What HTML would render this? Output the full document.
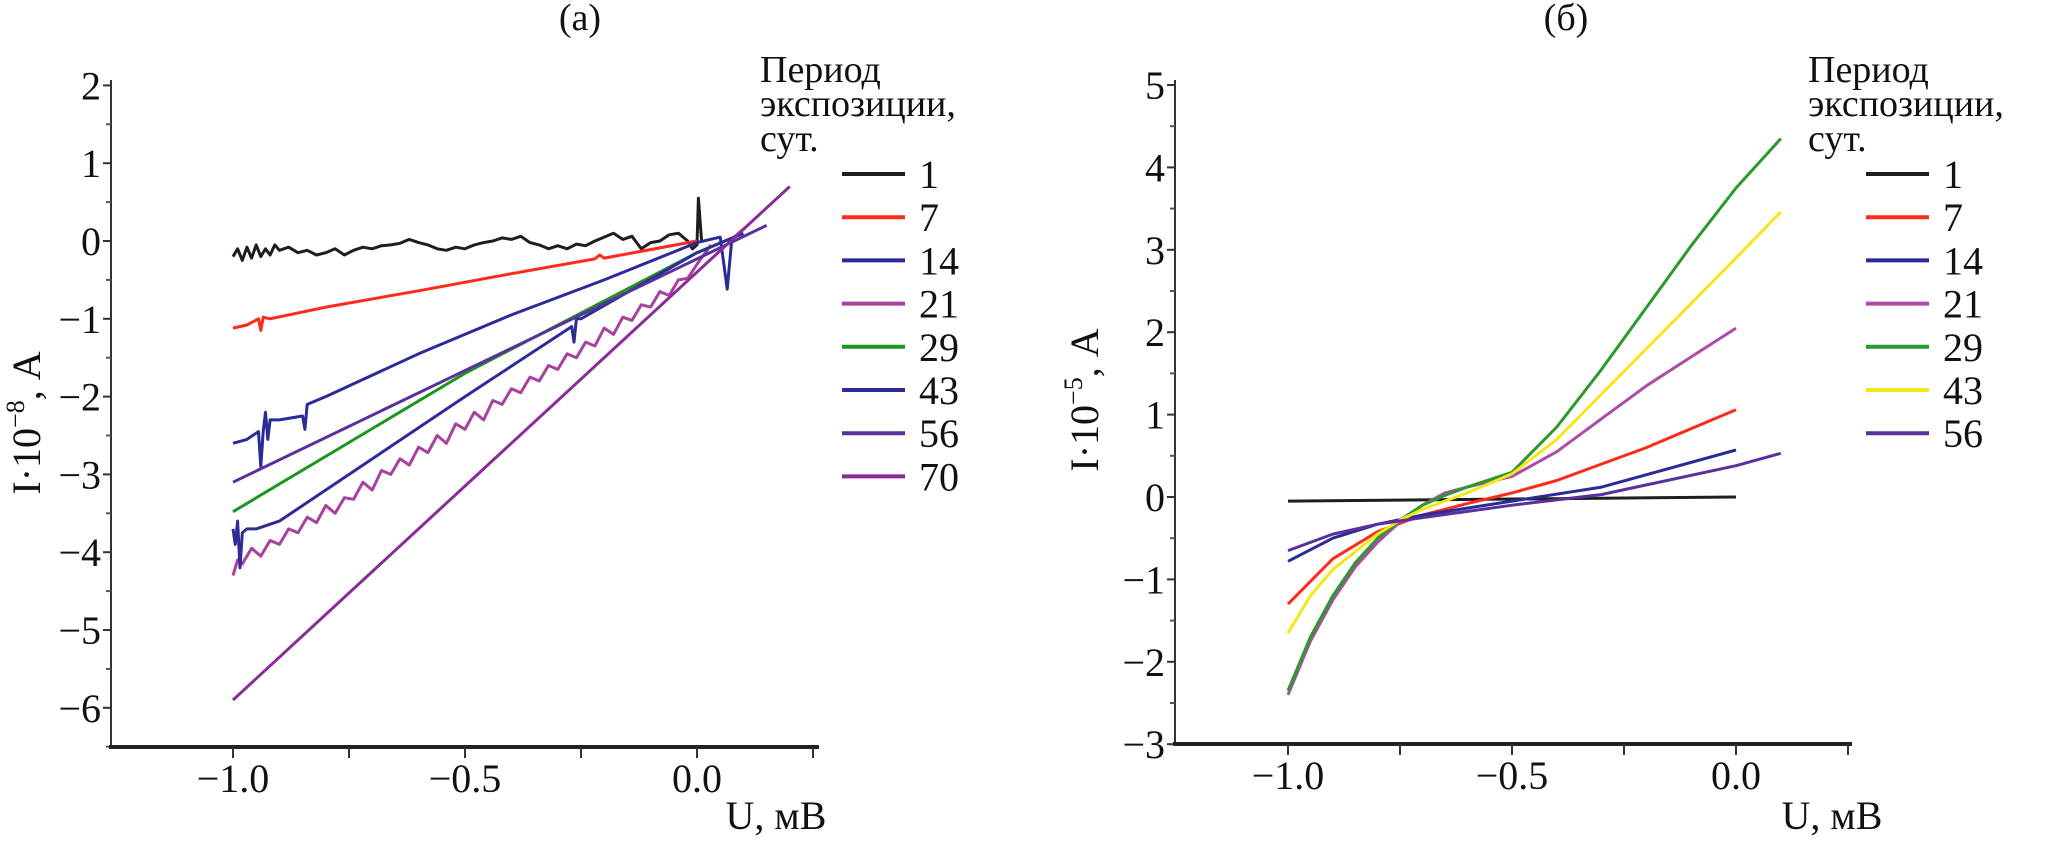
<!DOCTYPE html>
<html><head><meta charset="utf-8"><style>
html,body{margin:0;padding:0;background:#fff;}
svg{display:block;font-family:"Liberation Serif",serif;}
text{font-family:"Liberation Serif",serif;}
</style></head><body>
<svg id="chart" width="2063" height="847" viewBox="0 0 2063 847" font-family="Liberation Serif, serif"></svg>
<script>
// ---------- Panel (a) data ----------
const aYTicks = [2,1,0,-1,-2,-3,-4,-5,-6];
const aXTicks = [-1.0,-0.5,0.0];
const aXTickLabels = ["−1.0","−0.5","0.0"];
const aYTickLabels = ["2","1","0","−1","−2","−3","−4","−5","−6"];
const aLegend = ["1","7","14","21","29","43","56","70"];
const aS1x = [-1,-0.99,-0.98,-0.97,-0.96,-0.95,-0.94,-0.93,-0.92,-0.91,-0.9,-0.88,-0.86,-0.84,-0.82,-0.8,-0.78,-0.76,-0.74,-0.72,-0.7,-0.68,-0.66,-0.64,-0.62,-0.6,-0.58,-0.56,-0.54,-0.52,-0.5,-0.48,-0.46,-0.44,-0.42,-0.4,-0.38,-0.36,-0.34,-0.32,-0.3,-0.28,-0.26,-0.24,-0.22,-0.2,-0.18,-0.16,-0.14,-0.12,-0.1,-0.08,-0.06,-0.04,-0.03,-0.02,-0.01,0.0,0.003,0.01];
const aS1y = [-0.2,-0.1,-0.25,-0.08,-0.22,-0.05,-0.2,-0.1,-0.18,-0.05,-0.12,-0.08,-0.15,-0.12,-0.18,-0.15,-0.1,-0.18,-0.12,-0.08,-0.1,-0.06,-0.05,-0.03,0.02,-0.02,-0.05,-0.1,-0.12,-0.08,-0.1,-0.05,-0.02,0.0,0.04,0.02,0.06,-0.02,-0.05,-0.1,-0.06,-0.1,-0.04,-0.06,0.0,0.05,0.1,0.02,0.06,-0.1,-0.02,0.0,0.08,0.1,0.05,0.0,-0.1,-0.05,0.55,0.0];
const aS7x = [-1,-0.97,-0.945,-0.94,-0.935,-0.92,-0.8,-0.6,-0.4,-0.22,-0.21,-0.2,0];
const aS7y = [-1.12,-1.08,-1.0,-1.15,-0.98,-1.0,-0.85,-0.64,-0.42,-0.23,-0.18,-0.22,0.0];
const aS14x = [-1,-0.97,-0.945,-0.94,-0.935,-0.93,-0.925,-0.92,-0.9,-0.85,-0.845,-0.84,-0.8,-0.6,-0.4,-0.2,0,0.05,0.065,0.07,0.075,0.1];
const aS14y = [-2.6,-2.55,-2.45,-2.9,-2.45,-2.2,-2.55,-2.3,-2.3,-2.25,-2.42,-2.1,-2.0,-1.45,-0.95,-0.5,-0.02,0.05,-0.62,-0.3,0.02,0.15];
const aS21x = [-1,-0.99,-0.98,-0.96,-0.94,-0.92,-0.9,-0.88,-0.86,-0.84,-0.82,-0.8,-0.78,-0.76,-0.74,-0.72,-0.7,-0.68,-0.66,-0.64,-0.62,-0.6,-0.58,-0.56,-0.54,-0.52,-0.5,-0.48,-0.46,-0.44,-0.42,-0.4,-0.38,-0.36,-0.34,-0.32,-0.3,-0.28,-0.26,-0.24,-0.22,-0.2,-0.18,-0.16,-0.14,-0.12,-0.1,-0.08,-0.06,-0.04,-0.02,0,0.03];
const aS21y = [-4.3,-4.1,-4.15,-3.95,-4.05,-3.85,-3.9,-3.7,-3.75,-3.55,-3.62,-3.4,-3.5,-3.3,-3.32,-3.1,-3.2,-2.95,-3.0,-2.8,-2.88,-2.65,-2.72,-2.5,-2.6,-2.35,-2.42,-2.2,-2.3,-2.05,-2.1,-1.9,-1.95,-1.75,-1.8,-1.6,-1.65,-1.45,-1.5,-1.3,-1.35,-1.12,-1.2,-0.98,-1.02,-0.82,-0.85,-0.65,-0.7,-0.5,-0.48,-0.3,-0.05];
const aS29x = [-1,-0.5,0,0.1];
const aS29y = [-3.48,-1.7,-0.15,0.1];
const aS43x = [-1,-0.995,-0.99,-0.985,-0.98,-0.97,-0.95,-0.9,-0.5,-0.27,-0.265,-0.26,-0.25,0,0.1];
const aS43y = [-3.7,-3.9,-3.6,-4.2,-3.75,-3.7,-3.7,-3.6,-2.0,-1.1,-1.3,-1.0,-1.0,-0.15,0.1];
const aS56x = [-1,0.15];
const aS56y = [-3.1,0.2];
const aS70x = [-1,0.2];
const aS70y = [-5.9,0.7];
// ---------- Panel (б) data ----------
const bYTicks = [5,4,3,2,1,0,-1,-2,-3];
const bYTickLabels = ["5","4","3","2","1","0","−1","−2","−3"];
const bXTicks = [-1.0,-0.5,0.0];
const bXTickLabels = ["−1.0","−0.5","0.0"];
const bLegend = ["1","7","14","21","29","43","56"];
const bS1x = [-1,0];
const bS1y = [-0.05,0];
const bS7x = [-1,-0.9,-0.8,-0.7,-0.6,-0.5,-0.4,-0.3,-0.2,-0.1,0];
const bS7y = [-1.3,-0.75,-0.42,-0.22,-0.08,0.05,0.2,0.4,0.6,0.83,1.06];
const bS14x = [-1,-0.9,-0.8,-0.7,-0.5,-0.3,0];
const bS14y = [-0.78,-0.5,-0.33,-0.22,-0.05,0.12,0.57];
const bS21x = [-1,-0.95,-0.9,-0.85,-0.8,-0.75,-0.7,-0.65,-0.6,-0.5,-0.4,-0.3,-0.2,-0.1,0];
const bS21y = [-2.4,-1.75,-1.25,-0.85,-0.55,-0.3,-0.1,0.05,0.12,0.25,0.55,0.95,1.35,1.7,2.05];
const bS29x = [-1,-0.95,-0.9,-0.85,-0.8,-0.75,-0.7,-0.65,-0.6,-0.5,-0.4,-0.3,-0.2,-0.1,0,0.1];
const bS29y = [-2.35,-1.7,-1.2,-0.8,-0.5,-0.28,-0.1,0.02,0.12,0.3,0.85,1.55,2.3,3.05,3.75,4.35];
const bS43x = [-1,-0.95,-0.9,-0.8,-0.75,-0.7,-0.6,-0.5,-0.4,-0.3,-0.2,-0.1,0,0.1];
const bS43y = [-1.65,-1.2,-0.88,-0.45,-0.28,-0.15,0.05,0.28,0.7,1.25,1.8,2.35,2.9,3.46];
const bS56x = [-1,-0.9,-0.8,-0.7,-0.5,-0.3,0,0.1];
const bS56y = [-0.65,-0.45,-0.33,-0.25,-0.1,0.03,0.38,0.53];

const NS = "http://www.w3.org/2000/svg";
const FONT = "'Liberation Serif', serif";
const svg = document.getElementById("chart");
function mk(tag, attrs, parent) {
  const e = document.createElementNS(NS, tag);
  for (const k in attrs) e.setAttribute(k, attrs[k]);
  (parent || svg).appendChild(e);
  return e;
}
function txt(s, x, y, size, anchor, parent) {
  const t = mk("text", {x: x, y: y, "font-size": size, "font-family": FONT, "text-anchor": anchor || "start", fill: "#111"}, parent);
  t.style.fontFamily = FONT;
  t.textContent = s;
  return t;
}

function panel(cfg) {
  const g = mk("g", {});
  
  
  const X = v => cfg.x0 + (v - cfg.xmin) * cfg.xs;
  const Y = v => cfg.y0 - v * cfg.ys;
  const ya = mk("line", {x1: cfg.axX, y1: cfg.axTop, x2: cfg.axX, y2: cfg.axBot, stroke: "#333", "stroke-width": 2}, g);
  
  
  for (let i = 0; i < cfg.yTicks.length; i++) {
    const v = cfg.yTicks[i];
    mk("line", {x1: cfg.axX - 8, y1: Y(v), x2: cfg.axX, y2: Y(v), stroke: "#333", "stroke-width": 2}, g);
    const m = v - 0.5;
    if (Y(m) < cfg.axBot) mk("line", {x1: cfg.axX - 5, y1: Y(m), x2: cfg.axX, y2: Y(m), stroke: "#555", "stroke-width": 2}, g);
    const t = txt(cfg.yTickLabels[i], cfg.axX - 10, Y(v) + 14, 40, "end", g);
    
    
  }
  const xa = mk("line", {x1: cfg.axX - 2, y1: cfg.axBot, x2: cfg.axRight, y2: cfg.axBot, stroke: "#222", "stroke-width": 4}, g);
  
  
  for (let v = cfg.xmin; v <= cfg.xmax + 1e-9; v += 0.25) {
    mk("line", {x1: X(v), y1: cfg.axBot, x2: X(v), y2: cfg.axBot + 11, stroke: "#333", "stroke-width": 2}, g);
  }
  for (let i = 0; i < cfg.xTicks.length; i++) {
    const t = txt(cfg.xTickLabels[i], X(cfg.xTicks[i]), cfg.axBot + 45, 40, "middle", g);
    
    
  }
  for (let i = 0; i < cfg.series.length; i++) {
    const s = cfg.series[i];
    const d = s.x.map((xv, j) => (j ? "L" : "M") + X(xv).toFixed(1) + "," + Y(s.y[j]).toFixed(1)).join(" ");
    const p = mk("path", {d: d, fill: "none", stroke: s.c, "stroke-width": 3, "stroke-linejoin": "round"}, g);
    
    
  }
  const lg = mk("g", {}, g);
  
  
  txt("Период", cfg.legX, 82, 38, "start", lg);
  txt("экспозиции,", cfg.legX, 116, 38, "start", lg);
  txt("сут.", cfg.legX, 151, 38, "start", lg);
  for (let i = 0; i < cfg.legend.length; i++) {
    const yy = 174 + i * 43.2;
    const e = mk("g", {}, lg);
    
    
    mk("line", {x1: cfg.legLine, y1: yy, x2: cfg.legLine + 63, y2: yy, stroke: cfg.series[i].c, "stroke-width": 4}, e);
    txt(cfg.legend[i], cfg.legLine + 77, yy + 14, 40, "start", e);
  }
  const yt = txt(cfg.yLabelMain, 0, 0, 40, "middle", g);
  yt.setAttribute("transform", "translate(" + cfg.yLabX + "," + cfg.yLabY + ") rotate(-90)");
  const sup = mk("tspan", {dy: -16, "font-size": 26, "font-family": FONT}, yt); sup.textContent = cfg.yExp;
  const rest = mk("tspan", {dy: 16, "font-family": FONT}, yt); rest.textContent = ", А";
  
  
  const xt = txt("U, мВ", cfg.xLabX, 829, 40, "middle", g);
  
  
  const pt = txt(cfg.title, cfg.titleX, 30, 38, "middle", g);
  
  
}

panel({
  name: "panel-a", title: "(а)", titleX: 580,
  x0: 233, xmin: -1.0, xmax: 0.25, xs: 464, y0: 241, ys: 77.8,
  axX: 111, axTop: 80, axBot: 747, axRight: 819,
  yTicks: aYTicks, yTickLabels: aYTickLabels, xTicks: aXTicks, xTickLabels: aXTickLabels,
  legend: aLegend, legX: 760, legLine: 842,
  yLabelMain: "I·10", yExp: "−8", yLabX: 40, yLabY: 423, xLabX: 776,
  series: [
    {n: "1", c: "#1e1e1e", x: aS1x, y: aS1y},
    {n: "7", c: "#ff2a1a", x: aS7x, y: aS7y},
    {n: "14", c: "#2b2b98", x: aS14x, y: aS14y},
    {n: "21", c: "#a8409e", x: aS21x, y: aS21y},
    {n: "29", c: "#1e951e", x: aS29x, y: aS29y},
    {n: "43", c: "#2d2d96", x: aS43x, y: aS43y},
    {n: "56", c: "#5a309c", x: aS56x, y: aS56y},
    {n: "70", c: "#8a2c98", x: aS70x, y: aS70y}
  ]
});
panel({
  name: "panel-b", title: "(б)", titleX: 1566,
  x0: 1288, xmin: -1.0, xmax: 0.25, xs: 448, y0: 497, ys: 82.4,
  axX: 1175, axTop: 80, axBot: 744, axRight: 1852,
  yTicks: bYTicks, yTickLabels: bYTickLabels, xTicks: bXTicks, xTickLabels: bXTickLabels,
  legend: bLegend, legX: 1808, legLine: 1866,
  yLabelMain: "I·10", yExp: "−5", yLabX: 1098, yLabY: 400, xLabX: 1832,
  series: [
    {n: "1", c: "#1e1e1e", x: bS1x, y: bS1y},
    {n: "7", c: "#ff2a1a", x: bS7x, y: bS7y},
    {n: "14", c: "#2b2b98", x: bS14x, y: bS14y},
    {n: "21", c: "#b04aa8", x: bS21x, y: bS21y},
    {n: "29", c: "#2a9a2a", x: bS29x, y: bS29y},
    {n: "43", c: "#f5e61a", x: bS43x, y: bS43y},
    {n: "56", c: "#5a309c", x: bS56x, y: bS56y}
  ]
});
</script>
</body></html>
